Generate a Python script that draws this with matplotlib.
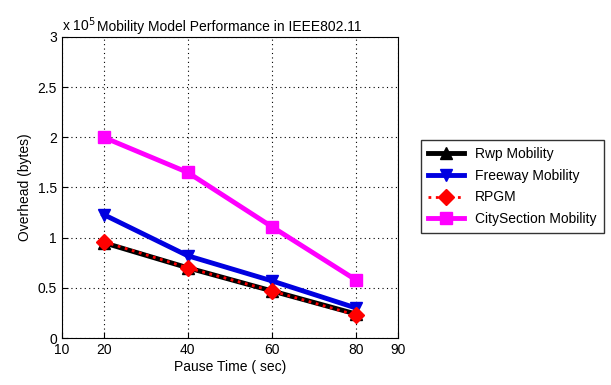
import matplotlib
matplotlib.use("Agg")
import matplotlib.pyplot as plt

plt.rcParams['font.family'] = ['Liberation Sans', 'DejaVu Sans']

pause = [20, 40, 60, 80]
rwp = [0.95, 0.70, 0.47, 0.24]
freeway = [1.23, 0.82, 0.57, 0.30]
rpgm = [0.96, 0.70, 0.47, 0.23]
city = [2.00, 1.65, 1.11, 0.58]
xticks = [10, 20, 40, 60, 80, 90]
yticks = [0, 0.5, 1, 1.5, 2, 2.5, 3]

fig = plt.figure(figsize=(6.11, 3.85), dpi=100)
ax = fig.add_axes([0.101, 0.122, 0.55, 0.782])

ax.plot(pause, rwp, color='black', lw=3.5, marker='^', ms=8, label='Rwp Mobility')
ax.plot(pause, freeway, color='#0000e0', lw=3.5, marker='v', ms=9, label='Freeway Mobility')
# RPGM: dotted red drawn over the black Rwp line
ax.plot(pause, rpgm, color='red', lw=2, ls=':', marker='D', ms=8, label='RPGM')
ax.plot(pause, city, color='#ff00ff', lw=3.5, marker='s', ms=9,
        mfc='#ff00ff', label='CitySection Mobility')

ax.set_xlim(10, 90)
ax.set_ylim(0, 3)
ax.set_xticks(xticks)
ax.set_yticks(yticks)
ax.set_yticklabels(['0', '0.5', '1', '1.5', '2', '2.5', '3'])
ax.tick_params(direction='in', labelsize=10, length=4)
ax.grid(True, color='black', ls=(0, (1, 3)), lw=0.8)

ax.set_xlabel('Pause Time ( sec)', fontsize=10, labelpad=2)
ax.set_ylabel('Overhead (bytes)', fontsize=10)
ax.set_title('Mobility Model Performance in IEEE802.11', fontsize=10, pad=4)
ax.text(0, 1.01, r'x 10$^5$', transform=ax.transAxes, fontsize=10, va='bottom')

ax.legend(loc='upper left', bbox_to_anchor=(0.689, 0.636), bbox_transform=fig.transFigure,
          borderaxespad=0, fontsize=10, frameon=True, fancybox=False, edgecolor='black',
          handlelength=2.6, borderpad=0.5, labelspacing=0.55)

fig.savefig('out.png', dpi=100)
